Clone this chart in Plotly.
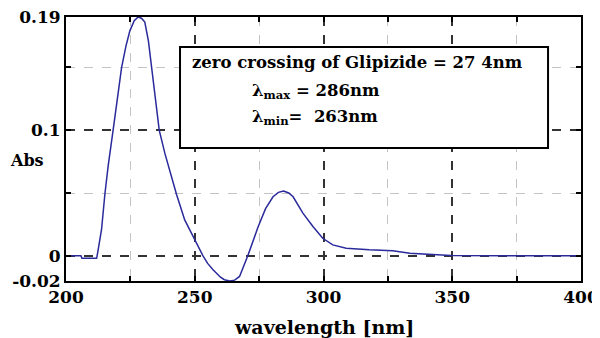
import plotly.graph_objects as go

wavelength = [200, 205.8, 206.2, 211.9, 212.5, 213.8, 215.1, 216.4, 218.3, 221.6, 223.3,
              224.8, 226.5, 228, 229.3, 230.6, 232, 233.2, 236.2, 238.4, 241.6, 242.9,
              246.1, 249.3, 253.2, 255, 257.1, 260, 261.5, 263.6, 265.5, 267.4, 269,
              270.6, 274.5, 277.5, 280.4, 282.5, 284.5, 286.5, 288.2, 292, 295.9, 299.7,
              303.6, 308.8, 317.8, 326.9, 333.5, 342.4, 349.5, 400]
absorbance = [0.0, 0.0, -0.002, -0.002, 0.005, 0.021, 0.049, 0.072, 0.100, 0.150, 0.167,
              0.179, 0.187, 0.190, 0.189, 0.186, 0.171, 0.150, 0.100, 0.0815, 0.0577, 0.049,
              0.0286, 0.0153, 0.0, -0.006, -0.011, -0.017, -0.019, -0.020, -0.0193, -0.0164, -0.008,
              0.0, 0.0225, 0.0375, 0.047, 0.0505, 0.0516, 0.050, 0.047, 0.034, 0.0233, 0.014,
              0.0087, 0.0061, 0.0048, 0.004, 0.0021, 0.0008, 0.0002, 0.0]

x_ticks = [200, 250, 300, 350, 400]
y_ticks = [-0.02, 0, 0.1, 0.19]
y_tick_labels = ["-0.02", "0", "0.1", "0.19"]

box_lines = ["zero crossing of Glipizide = 27 4nm",
             "λ<sub>max</sub> = 286nm",
             "λ<sub>min</sub>=  263nm"]

FONT = "DejaVu Serif"

fig = go.Figure()
fig.add_trace(go.Scatter(x=wavelength, y=absorbance, mode="lines",
                         line=dict(color="#2a2a9c", width=1.5), showlegend=False,
                         cliponaxis=False))

axis_common = dict(showline=True, linecolor="black", linewidth=2, mirror="ticks",
                   ticks="inside", ticklen=5, tickwidth=2, tickcolor="black",
                   showgrid=True, gridcolor="#333333", gridwidth=1.5, griddash="dash",
                   zeroline=False, automargin=False, ticklabeloverflow="allow",
                   tickfont=dict(family=FONT, size=17, color="black", weight="bold"))

fig.update_xaxes(range=[200, 400], tickvals=x_ticks,
                 minor=dict(dtick=25, tick0=200, ticks="inside", ticklen=5, tickwidth=2,
                            tickcolor="black", showgrid=True, gridcolor="#c4c4c4",
                            gridwidth=1.2, griddash="dash"),
                 **axis_common)
fig.update_yaxes(range=[-0.02, 0.19], tickvals=y_ticks, ticktext=y_tick_labels,
                 minor=dict(dtick=0.05, tick0=0, ticks="inside", ticklen=5, tickwidth=2,
                            tickcolor="black", showgrid=True, gridcolor="#c4c4c4",
                            gridwidth=1.2, griddash="dash"),
                 **axis_common)

fig.add_shape(type="rect", xref="paper", yref="paper", x0=0.2214, x1=0.936, y0=0.504, y1=0.886,
              line=dict(color="black", width=2), fillcolor="white", layer="above")

BOX_FONT = dict(family=FONT, size=16.5, color="black", weight="bold")
fig.add_annotation(text=box_lines[0], xref="paper", yref="paper", x=0.2408, y=0.826,
                   xanchor="left", yanchor="middle", showarrow=False, font=BOX_FONT)
fig.add_annotation(text=box_lines[1].replace("  ", "\u00a0 "), xref="paper", yref="paper", x=0.357, y=0.716,
                   xanchor="left", yanchor="middle", showarrow=False, font=BOX_FONT)
fig.add_annotation(text=box_lines[2].replace("  ", "\u00a0 "), xref="paper", yref="paper", x=0.357, y=0.621,
                   xanchor="left", yanchor="middle", showarrow=False, font=BOX_FONT)

fig.add_annotation(text="Abs", xref="paper", yref="paper", x=-0.076, y=0.458,
                   xanchor="center", yanchor="middle", showarrow=False,
                   font=dict(family=FONT, size=16, color="black", weight="bold"))
fig.add_annotation(text="wavelength [nm]", xref="paper", yref="paper", x=0.5, y=-0.174,
                   xanchor="center", yanchor="middle", showarrow=False,
                   font=dict(family=FONT, size=19, color="black", weight="bold"))

# The page has an 8px body margin, so the figure is sized to fit the 600x338 window.
fig.update_layout(width=592, height=330, margin=dict(l=58, r=19, t=9, b=57, autoexpand=False),
                  paper_bgcolor="white", plot_bgcolor="white")

fig.write_html("out.html")
